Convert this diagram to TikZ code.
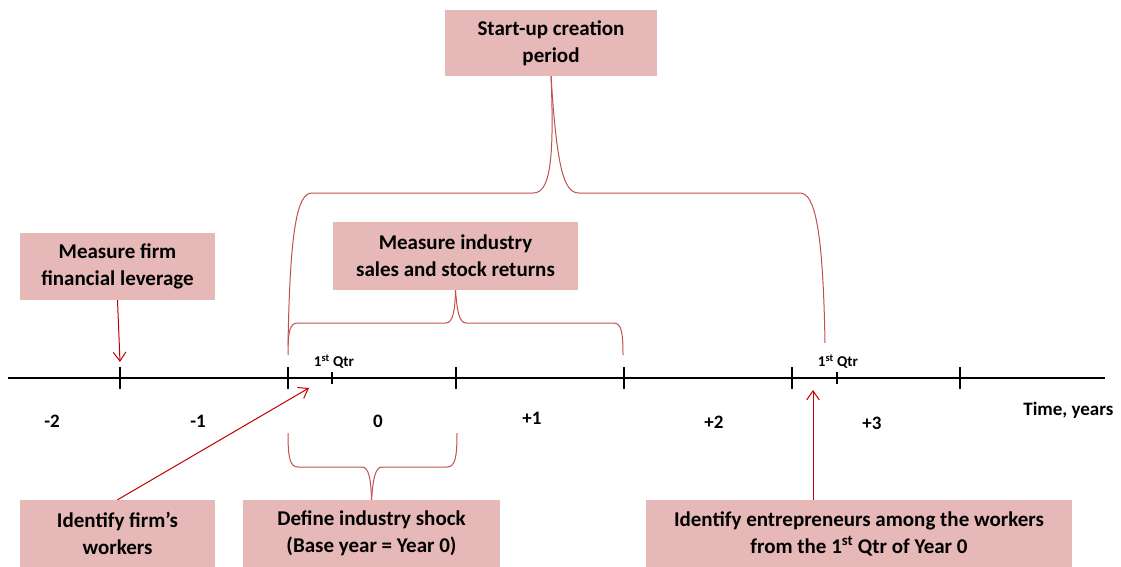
\documentclass[tikz,border=0pt]{standalone}
\usepackage{fontspec}
\setmainfont{Carlito}
\usepackage{tikz}
\usetikzlibrary{arrows.meta}
\definecolor{boxpink}{HTML}{E6B8B7}
\definecolor{bracered}{HTML}{C0504D}
\definecolor{arrowred}{HTML}{C00000}
\tikzset{
  stagebox/.style={fill=boxpink,font=\fontsize{21}{27}\selectfont\bfseries,align=center,inner sep=0pt},
  yearlabel/.style={font=\fontsize{19}{21}\selectfont\bfseries},
  qtrlabel/.style={font=\fontsize{15}{17}\selectfont\bfseries},
  brace/.style={bracered,line width=1pt},
  pointer/.style={arrowred,line width=1pt,-{Straight Barb[angle=70:11pt]}},
  tick/.style={line width=1.5pt}
}
\begin{document}
\begin{tikzpicture}[x=1pt,y=-1pt]
\useasboundingbox (0,0) rectangle (1121,567);
% boxes
\node[stagebox,minimum width=212pt,minimum height=66pt] (startup) at (551,43) {Start-up creation\\period};
\node[stagebox,minimum width=245pt,minimum height=68pt] (industry) at (455.5,256) {Measure industry\\sales and stock returns};
\node[stagebox,minimum width=195pt,minimum height=67pt] (leverage) at (117.5,266.5) {Measure firm\\financial leverage};
\node[stagebox,minimum width=195pt,minimum height=67pt] (workers) at (117.5,533.5) {Identify firm's\\workers};
\node[stagebox,minimum width=257pt,minimum height=67pt] (shock) at (371.5,533.5) {Define industry shock\\(Base year = Year 0)};
\node[stagebox,minimum width=426pt,minimum height=67pt] (entre) at (859,533.5) {Identify entrepreneurs among the workers\\from the 1\textsuperscript{st} Qtr of Year 0};
% time axis
\draw[tick] (8,378) -- (1105,378);
\foreach \x in {120,288,456,624,792,960}
  \draw[tick] (\x,367) -- (\x,389);
\foreach \x in {332,837}
  \draw[line width=1.2pt] (\x,372) -- (\x,384);
\node[qtrlabel] (qa) at (334,362) {1\textsuperscript{st} Qtr};
\node[qtrlabel] (qb) at (838,362) {1\textsuperscript{st} Qtr};
\node[yearlabel] (ym2) at (52,421) {-2};
\node[yearlabel] (ym1) at (198,421) {-1};
\node[yearlabel] (y0) at (378,421) {0};
\node[yearlabel] (y1) at (532,418) {+1};
\node[yearlabel] (y2) at (714,422) {+2};
\node[yearlabel] (y3) at (872,423) {+3};
\node[yearlabel,anchor=east] (time) at (1117,410) {Time, years};
% braces
\draw[brace] (288,345) .. controls (290,230) and (297,193) .. (312,193) -- (533,193) .. controls (548,193) and (555,170) .. (startup.south);
\draw[brace] (825,343) .. controls (823,230) and (815,193) .. (800,193) -- (579,193) .. controls (564,193) and (557,170) .. (startup.south);
\draw[brace] (288,355) .. controls (288,330) and (290,323) .. (298,323) -- (446,323) .. controls (453,323) and (455,310) .. (industry.south);
\draw[brace] (623,355) .. controls (623,330) and (621,323) .. (613,323) -- (466,323) .. controls (459,323) and (457,310) .. (industry.south);
\draw[brace] (288,433) .. controls (288,458) and (290,467) .. (298,467) -- (362,467) .. controls (369,467) and (371,480) .. (shock.north);
\draw[brace] (457,433) .. controls (457,458) and (455,467) .. (447,467) -- (382,467) .. controls (375,467) and (373,480) .. (shock.north);
% arrows
\coordinate (levtip) at (120,362);
\coordinate (qtrtip) at (309,388);
\coordinate (entretip) at (813,390);
\draw[pointer] (leverage.south) -- (levtip);
\draw[pointer] (workers.north) -- (qtrtip);
\draw[pointer] (entre.north -| entretip) -- (entretip);
\end{tikzpicture}
\end{document}
